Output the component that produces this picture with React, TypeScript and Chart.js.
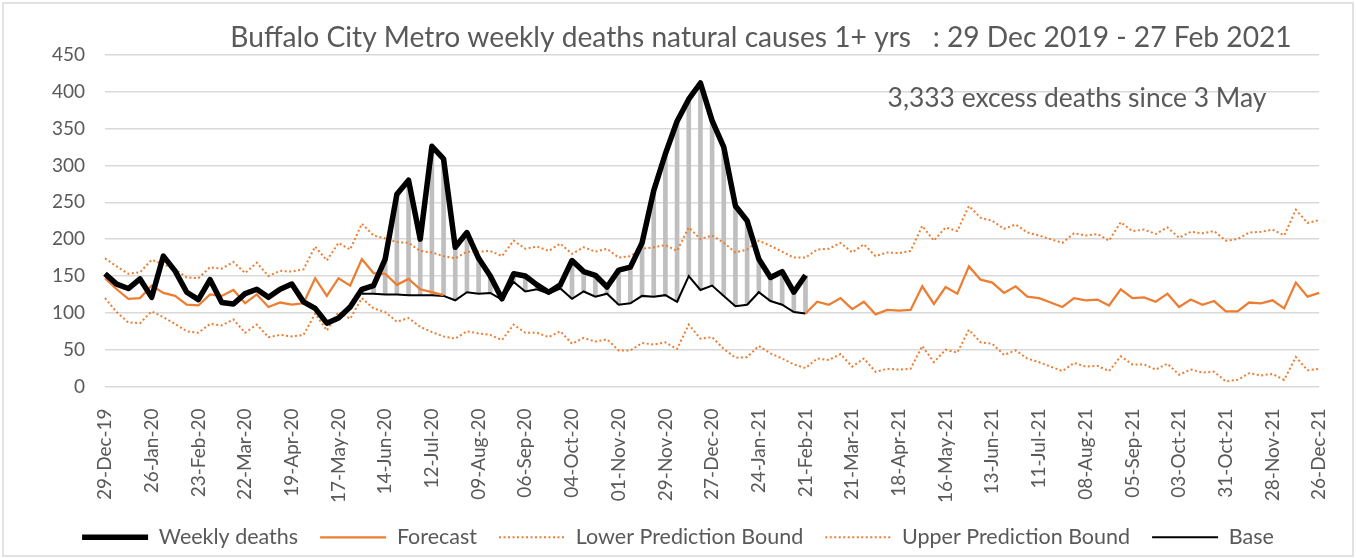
import React, { useEffect, useRef } from "react";
import { Chart, registerables } from "chart.js";

Chart.register(...registerables);

// ---------- DATA ----------
const MONTHS = ["Jan", "Feb", "Mar", "Apr", "May", "Jun", "Jul", "Aug", "Sep", "Oct", "Nov", "Dec"];
const N_WEEKS = 105; // 29-Dec-19 .. 26-Dec-21, weekly
const CATEGORIES: string[] = Array.from({ length: N_WEEKS }, (_, i) => {
  const d = new Date(2019, 11, 29 + 7 * i);
  return `${String(d.getDate()).padStart(2, "0")}-${MONTHS[d.getMonth()]}-${String(d.getFullYear()).slice(2)}`;
});
const TICK_EVERY = 4;

// Weekly deaths, weeks 0..60
const WEEKLY_DEATHS = [
  153, 139, 133, 146, 121, 177, 157, 128, 118, 145,
  114, 112, 126, 132, 121, 132, 139, 115, 106, 86,
  93, 108, 132, 137, 173, 261, 280, 200, 326, 309,
  189, 209, 174, 150, 119, 153, 150, 138, 128, 138,
  171, 156, 151, 135, 158, 162, 195, 266, 316, 360,
  390, 412, 361, 325, 245, 225, 173, 148, 156, 128,
  151,
];

// Base, weeks 22..60
const BASE_START = 22;
const BASE = [
  126, 126, 125, 125, 124, 124, 124, 123, 117, 128,
  126, 127, 118, 142, 129, 132, 126, 133, 119, 129,
  122, 126, 111, 113, 123, 122, 124, 115, 150, 131,
  137, 123, 109, 111, 128, 116, 111, 101, 99,
];

// Forecast: weeks 0..29 and weeks 60..104
const FORECAST_A = [
  147, 132, 119, 120, 137, 127, 123, 111, 110, 125,
  123, 131, 113, 125, 108, 114, 111, 113, 147, 123,
  147, 137, 173, 154, 153, 138, 146, 132, 128, 124,
];
const FORECAST_B_START = 60;
const FORECAST_B = [
  99, 115, 111, 120, 105, 115, 98, 104, 103, 104,
  136, 112, 135, 126, 163, 145, 141, 127, 136, 122,
  120, 114, 108, 120, 117, 118, 110, 132, 120, 121,
  115, 126, 108, 118, 111, 116, 102, 102, 114, 113,
  117, 106, 141, 122, 127,
];

const LOWER_BOUND = [
  120, 101, 87, 86, 102, 94, 85, 75, 73, 85,
  83, 91, 73, 84, 67, 70, 68, 70, 99, 76,
  101, 92, 120, 106, 101, 88, 93, 81, 74, 68,
  65, 75, 72, 70, 63, 84, 73, 73, 67, 75,
  58, 66, 61, 64, 49, 49, 59, 57, 60, 51,
  84, 65, 67, 51, 39, 40, 55, 45, 38, 30,
  25, 38, 36, 44, 27, 38, 20, 24, 23, 24,
  55, 33, 50, 46, 77, 60, 58, 43, 49, 38,
  33, 27, 21, 32, 27, 28, 21, 41, 30, 30,
  23, 31, 16, 23, 19, 20, 7, 9, 18, 15,
  17, 9, 40, 22, 24,
];

const UPPER_BOUND = [
  174, 163, 153, 155, 172, 166, 159, 148, 147, 162,
  160, 169, 154, 168, 150, 157, 156, 159, 190, 171,
  195, 186, 221, 205, 201, 196, 195, 184, 182, 177,
  174, 183, 183, 184, 177, 198, 187, 190, 184, 194,
  180, 189, 183, 187, 175, 177, 187, 189, 192, 184,
  216, 200, 205, 195, 182, 186, 198, 191, 183, 175,
  175, 186, 187, 195, 182, 193, 177, 182, 181, 184,
  218, 198, 216, 211, 245, 229, 225, 214, 220, 209,
  205, 200, 195, 208, 205, 207, 198, 223, 211, 213,
  207, 216, 202, 210, 208, 211, 198, 200, 209, 210,
  213, 205, 240, 222, 226,
];

const TITLE = "Buffalo City Metro weekly deaths natural causes 1+ yrs   : 29 Dec 2019 - 27 Feb 2021";
const ANNOTATION = "3,333 excess deaths since 3 May";

// ---------- helpers to build full-length series ----------
const place = (values: number[], start: number): (number | null)[] =>
  Array.from({ length: N_WEEKS }, (_, i) => (i >= start && i < start + values.length ? values[i - start] : null));

const weeklySeries = place(WEEKLY_DEATHS, 0);
const baseSeries = place(BASE, BASE_START);
const forecastSeries = Array.from({ length: N_WEEKS }, (_, i) =>
  i < FORECAST_A.length ? FORECAST_A[i] : i >= FORECAST_B_START ? FORECAST_B[i - FORECAST_B_START] : null
);
const excessSeries = Array.from({ length: N_WEEKS }, (_, i) =>
  weeklySeries[i] != null && baseSeries[i] != null ? [baseSeries[i] as number, weeklySeries[i] as number] : null
);

const TEXT = "#595959";
const ORANGE = "#ED7D31";
const FONT = "Lato";
const DOTS = [2, 2.5];

const frameAndText = {
  id: "frameAndText",
  beforeDraw(chart: any) {
    const ctx = chart.ctx;
    ctx.save();
    ctx.fillStyle = "#ffffff";
    ctx.fillRect(0, 0, chart.width, chart.height);
    ctx.strokeStyle = "#d9d9d9";
    ctx.lineWidth = 1.5;
    ctx.strokeRect(3, 3, chart.width - 6, chart.height - 5);
    ctx.restore();
  },
  afterDraw(chart: any) {
    const ctx = chart.ctx;
    const fit = (text: string, cx: number, cy: number, width: number) => {
      ctx.font = `40px ${FONT}`;
      const w = ctx.measureText(text).width;
      const size = (40 * width) / w;
      ctx.font = `${size}px ${FONT}`;
      ctx.textAlign = "center";
      ctx.textBaseline = "middle";
      ctx.fillStyle = TEXT;
      ctx.fillText(text, cx, cy);
    };
    ctx.save();
    fit(TITLE, 761, 38, 1062);
    fit(ANNOTATION, 1077, 98, 379);
    ctx.restore();
  },
};

export default function App() {
  const ref = useRef<HTMLCanvasElement>(null);
  useEffect(() => {
    if (!ref.current) return;
    const chart = new Chart(ref.current, {
      type: "bar",
      data: {
        labels: CATEGORIES,
        datasets: [
          {
            type: "line",
            label: "Weekly deaths",
            data: weeklySeries,
            borderColor: "#000000",
            backgroundColor: "#000000",
            borderWidth: 5.5,
            pointRadius: 0,
            pointStyle: "line",
            borderJoinStyle: "round",
            order: 0,
          },
          {
            type: "line",
            label: "Forecast",
            data: forecastSeries,
            borderColor: ORANGE,
            backgroundColor: ORANGE,
            borderWidth: 2.25,
            pointRadius: 0,
            pointStyle: "line",
            order: 1,
          },
          {
            type: "line",
            label: "Lower Prediction Bound",
            data: LOWER_BOUND,
            borderColor: ORANGE,
            backgroundColor: ORANGE,
            borderWidth: 2,
            borderDash: DOTS,
            pointRadius: 0,
            pointStyle: "line",
            order: 2,
          },
          {
            type: "line",
            label: "Upper Prediction Bound",
            data: UPPER_BOUND,
            borderColor: ORANGE,
            backgroundColor: ORANGE,
            borderWidth: 2,
            borderDash: DOTS,
            pointRadius: 0,
            pointStyle: "line",
            order: 3,
          },
          {
            type: "line",
            label: "Base",
            data: baseSeries,
            borderColor: "#000000",
            backgroundColor: "#000000",
            borderWidth: 2,
            pointRadius: 0,
            pointStyle: "line",
            order: 4,
          },
          {
            type: "bar",
            label: "Excess",
            data: excessSeries as any,
            backgroundColor: "#bfbfbf",
            borderWidth: 0,
            barThickness: 4,
            order: 10,
          },
        ],
      },
      options: {
        responsive: false,
        animation: false,
        devicePixelRatio: 1,
        layout: { padding: { top: 55, left: 0, right: 0, bottom: 0 } },
        plugins: {
          tooltip: { enabled: false },
          title: { display: false },
          legend: {
            position: "bottom",
            labels: {
              usePointStyle: true,
              pointStyleWidth: 66,
              padding: 22,
              color: TEXT,
              font: { family: FONT, size: 21.5 },
              generateLabels: (chart: any) => {
                const items = (Chart.defaults as any).plugins.legend.labels.generateLabels(chart);
                return items
                  .filter((it: any) => it.text !== "Excess")
                  .map((it: any) => {
                    const ds = chart.data.datasets[it.datasetIndex];
                    return {
                      ...it,
                      pointStyle: "line",
                      lineWidth: ds.borderWidth,
                      strokeStyle: ds.borderColor,
                      fillStyle: ds.borderColor,
                      lineDash: ds.borderDash || [],
                      lineCap: "butt",
                    };
                  });
              },
            },
          },
        },
        scales: {
          x: {
            type: "category",
            offset: false,
            grid: { display: false, offset: false },
            border: { display: false },
            ticks: {
              autoSkip: false,
              minRotation: 90,
              maxRotation: 90,
              padding: 14,
              color: TEXT,
              font: { family: FONT, size: 19 },
              callback: (_v: any, i: number) => (i % TICK_EVERY === 0 ? CATEGORIES[i] : ""),
            },
            afterFit: (s: any) => {
              s.height = 118;
            },
          },
          y: {
            min: 0,
            max: 450,
            position: "left",
            ticks: { stepSize: 50, padding: 20, color: TEXT, font: { family: FONT, size: 19 } },
            grid: { color: "#d9d9d9", lineWidth: 1.5, drawTicks: false },
            border: { display: false },
            afterFit: (s: any) => {
              s.width = 105;
            },
          },
          yR: {
            position: "right",
            display: true,
            grid: { display: false },
            ticks: { display: false },
            border: { display: false },
            afterFit: (s: any) => {
              s.width = 24;
            },
          },
        },
      } as any,
      plugins: [frameAndText],
    });
    return () => chart.destroy();
  }, []);
  return (
    <div style={{ position: "fixed", left: 0, top: 0, width: 1356, height: 558, background: "#fff" }}>
      <canvas ref={ref} width={1356} height={558} style={{ display: "block" }} />
    </div>
  );
}
